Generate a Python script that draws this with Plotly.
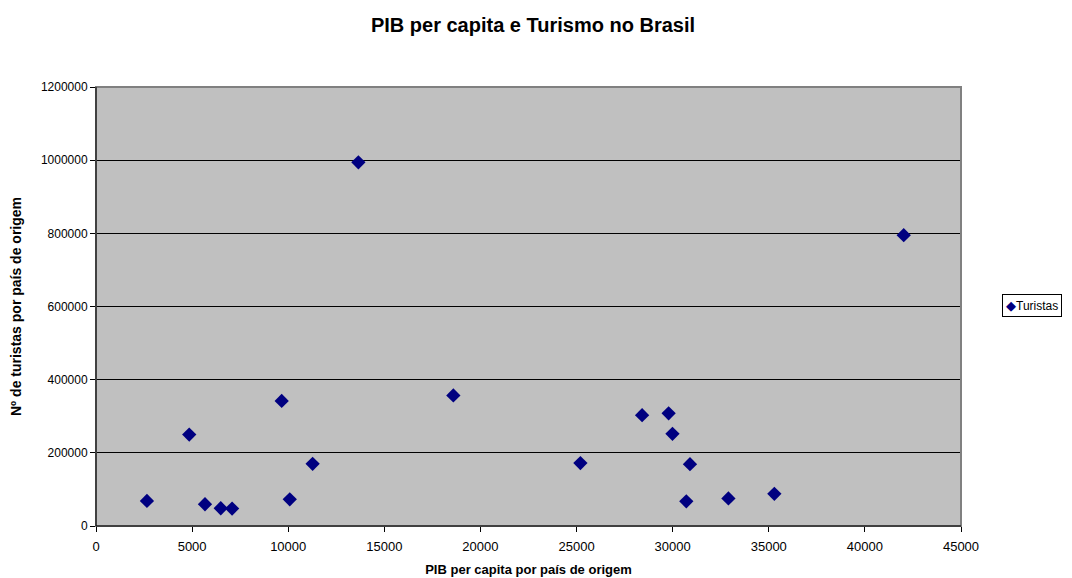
import plotly.graph_objects as go

pib = [2650, 4850, 5670, 6490, 7080, 9660, 10080, 11270, 13650, 18590,
       25200, 28410, 29790, 29990, 30900, 30710, 32900, 35290, 42020]
turistas = [68500, 250000, 59500, 48500, 47500, 342000, 73000, 170000, 994000, 357000,
            172000, 303000, 308000, 252000, 169000, 67500, 75500, 88000, 795000]

x_ticks = [0, 5000, 10000, 15000, 20000, 25000, 30000, 35000, 40000, 45000]
y_ticks = [0, 200000, 400000, 600000, 800000, 1000000, 1200000]

FONT = "Liberation Sans, Arial, sans-serif"
# the page body adds an 8px margin, so the figure is drawn 8px smaller and shifted
OFF = 8
W, H = 1072 - OFF, 578 - OFF
L, T = 96 - OFF, 87 - OFF
R, B = W - (961 - OFF), H - (526 - OFF)
PW, PH = W - L - R, H - T - B

fig = go.Figure()
fig.add_trace(go.Scatter(
    x=pib, y=turistas, mode="markers", name="Turistas",
    marker=dict(symbol="diamond", size=11, color="#000080", line=dict(width=0)),
    showlegend=False,
))

fig.update_layout(
    width=W, height=H,
    margin=dict(l=L, r=R, t=T, b=B, autoexpand=False),
    paper_bgcolor="white",
    plot_bgcolor="#c0c0c0",
    font=dict(family=FONT, size=12, color="black"),
    title=dict(text="<b>PIB per capita e Turismo no Brasil</b>",
               x=(533 - OFF) / W, xanchor="center",
               y=1 - (25 - OFF) / H, yanchor="middle",
               font=dict(size=20, family=FONT)),
    showlegend=False,
    xaxis=dict(range=[0, 45000], tickvals=x_ticks, ticktext=[str(v) for v in x_ticks],
               showgrid=False, zeroline=False, showline=True, linecolor="black",
               linewidth=1, ticks="outside", ticklen=5, tickcolor="black",
               tickfont=dict(size=13), automargin=False, ticklabelstandoff=3,
               title=dict(text="<b>PIB per capita por país de origem</b>",
                          font=dict(size=13), standoff=12)),
    yaxis=dict(range=[0, 1200000], tickvals=y_ticks, ticktext=[str(v) for v in y_ticks],
               showgrid=True, gridcolor="black", gridwidth=1, zeroline=False,
               showline=True, linecolor="black", linewidth=1,
               ticks="outside", ticklen=5, tickcolor="black",
               tickfont=dict(size=12), automargin=False,
               title=dict(text="<b>Nº de turistas por país de origem</b>",
                          font=dict(size=14), standoff=18)),
)

fig.add_shape(type="rect", xref="paper", yref="paper", x0=0, y0=0, x1=1, y1=1,
              line=dict(color="#808080", width=2), layer="above")
fig.add_shape(type="line", xref="paper", yref="paper", x0=0, y0=0, x1=0, y1=1,
              line=dict(color="black", width=1), layer="above")
fig.add_shape(type="line", xref="paper", yref="paper", x0=0, y0=0, x1=1, y1=0,
              line=dict(color="black", width=1), layer="above")

# legend box (Excel style)
fig.add_annotation(
    xref="paper", yref="paper",
    x=(1002 - 96) / PW, y=(526 - 305.5) / PH,
    xanchor="left", yanchor="middle", showarrow=False,
    text="<span style='color:#000080;font-size:13px'>◆</span>Turistas",
    font=dict(size=12, family=FONT, color="black"),
    bordercolor="black", borderwidth=1, borderpad=3, bgcolor="white",
)

fig.write_html("out.html")
